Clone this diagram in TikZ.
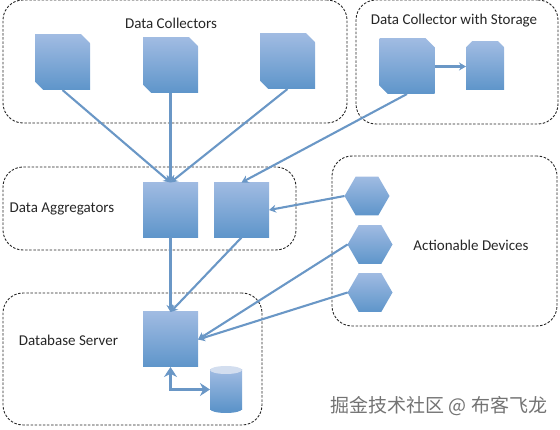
\documentclass[tikz,border=0pt]{standalone}
\usepackage{fontspec}
\setmainfont{Carlito}
\newfontfamily\cjkfont{Noto Sans CJK SC}
\usetikzlibrary{arrows.meta,shapes.geometric}
\definecolor{boxtop}{HTML}{A0BBE2}
\definecolor{boxbot}{HTML}{5E95CA}
\definecolor{wire}{HTML}{6A97C6}
\definecolor{capfill}{HTML}{D3DEEF}

\begin{document}
\begin{tikzpicture}[
    x=1pt, y=-1pt,
    every node/.style={font=\fontsize{15}{18}\selectfont, text=black!85},
    grp/.style={rectangle, draw=black!85, dash pattern=on 2.5pt off 1.6pt, line width=0.9pt,
                rounded corners=20pt, inner sep=0pt},
    bx/.style={rectangle, top color=boxtop, bottom color=boxbot, minimum size=55pt,
               inner sep=0pt, outer sep=0pt},
    hx/.style={regular polygon, regular polygon sides=6,
               top color=boxtop, bottom color=boxbot, minimum size=45pt,
               inner sep=0pt, outer sep=0pt},
    e/.style={draw=wire, line width=2.1pt, -{Stealth[length=7pt,width=8pt]}},
    ee/.style={draw=wire, line width=3pt, {Stealth[length=10pt,width=13pt]}-{Stealth[length=10pt,width=13pt]}},
  ]
  \useasboundingbox (0,0) rectangle (560,430);
  \node[grp, minimum width=344pt, minimum height=123pt] (collectgrp) at (175,61.5) {};
  \node[grp, minimum width=202pt, minimum height=124pt] (storegrp) at (457,62) {};
  \node[grp, minimum width=293pt, minimum height=83pt] (agggrp) at (149.5,208.5) {};
  \node[grp, minimum width=259pt, minimum height=132pt] (dbgrp) at (132.5,359) {};
  \node[grp, minimum width=225pt, minimum height=170pt] (actgrp) at (444.5,241) {};

  \node (lcollect) at (171,23) {Data Collectors};
  \node (lstore) at (454,21) {Data Collector with Storage};
  \node (lagg) at (62,209) {Data Aggregators};
  \node (ldb) at (68.5,340) {Database Server};
  \node (lact) at (471,245) {Actionable Devices};

  \node[bx] (col1) at (62.5,62.5) {};
  \node[bx] (col2) at (170.5,65.5) {};
  \node[bx] (col3) at (287.5,61.5) {};
  \node[bx] (col4) at (407,66.5) {};
  \node[bx, minimum width=38pt, minimum height=48pt] (disk) at (485,66) {};
  \node[bx] (agg1) at (170.5,210) {};
  \node[bx] (agg2) at (241.5,210) {};
  \node[bx] (srv) at (170.5,339.5) {};
  \node[ellipse, fill=boxbot, minimum width=32pt, minimum height=8pt, inner sep=0pt] (dbfoot) at (226,409) {};
  \node[bx, minimum width=32pt, minimum height=40pt] (dbase) at (226,389.5) {};
  \node[ellipse, fill=capfill, minimum width=32pt, minimum height=8pt, inner sep=0pt] (dbcap) at (226,370) {};
  \node[hx] (dev1) at (367,196) {};
  \node[hx] (dev2) at (370,244.5) {};
  \node[hx] (dev3) at (370,292.5) {};

  % cut the corners off the blocks
  \foreach \n in {col1,col2,col3,col4} {
    \fill[white] (\n.north east) ++(1,-1) -- ++(-10,0) -- ++(10,10) -- cycle;
    \fill[white] (\n.south west) ++(-1,1) -- ++(10,0) -- ++(-10,-10) -- cycle;
  }
  \fill[white] (disk.north east) ++(1,-1) -- ++(-7,0) -- ++(7,7) -- cycle;
  \fill[white] (disk.north west) ++(-1,-1) -- ++(7,0) -- ++(-7,7) -- cycle;

  \draw[e] (col1.south) -- (agg1.north);
  \draw[e] (col2.south) -- (agg1.north);
  \draw[e] (col3.south) -- (agg1.north);
  \draw[e] (col4.south) -- (agg2.north);
  \draw[e] (col4.east) -- (disk.west |- col4.east);
  \draw[e] (dev1.west) -- (agg2.east);
  \draw[e] (agg1.south) -- (srv.north);
  \draw[e] (agg2.south) -- (srv.north);
  \draw[e] (dev2.west) -- (srv.east);
  \draw[e] (dev3.west) -- (srv.east);
  \draw[ee] (srv.south) |- (dbase.west);

  \node[font=\cjkfont\fontsize{19}{22}\selectfont, text=black!55, inner sep=0pt] (mark) at (439,406) {掘金技术社区 @ 布客飞龙};
\end{tikzpicture}
\end{document}
